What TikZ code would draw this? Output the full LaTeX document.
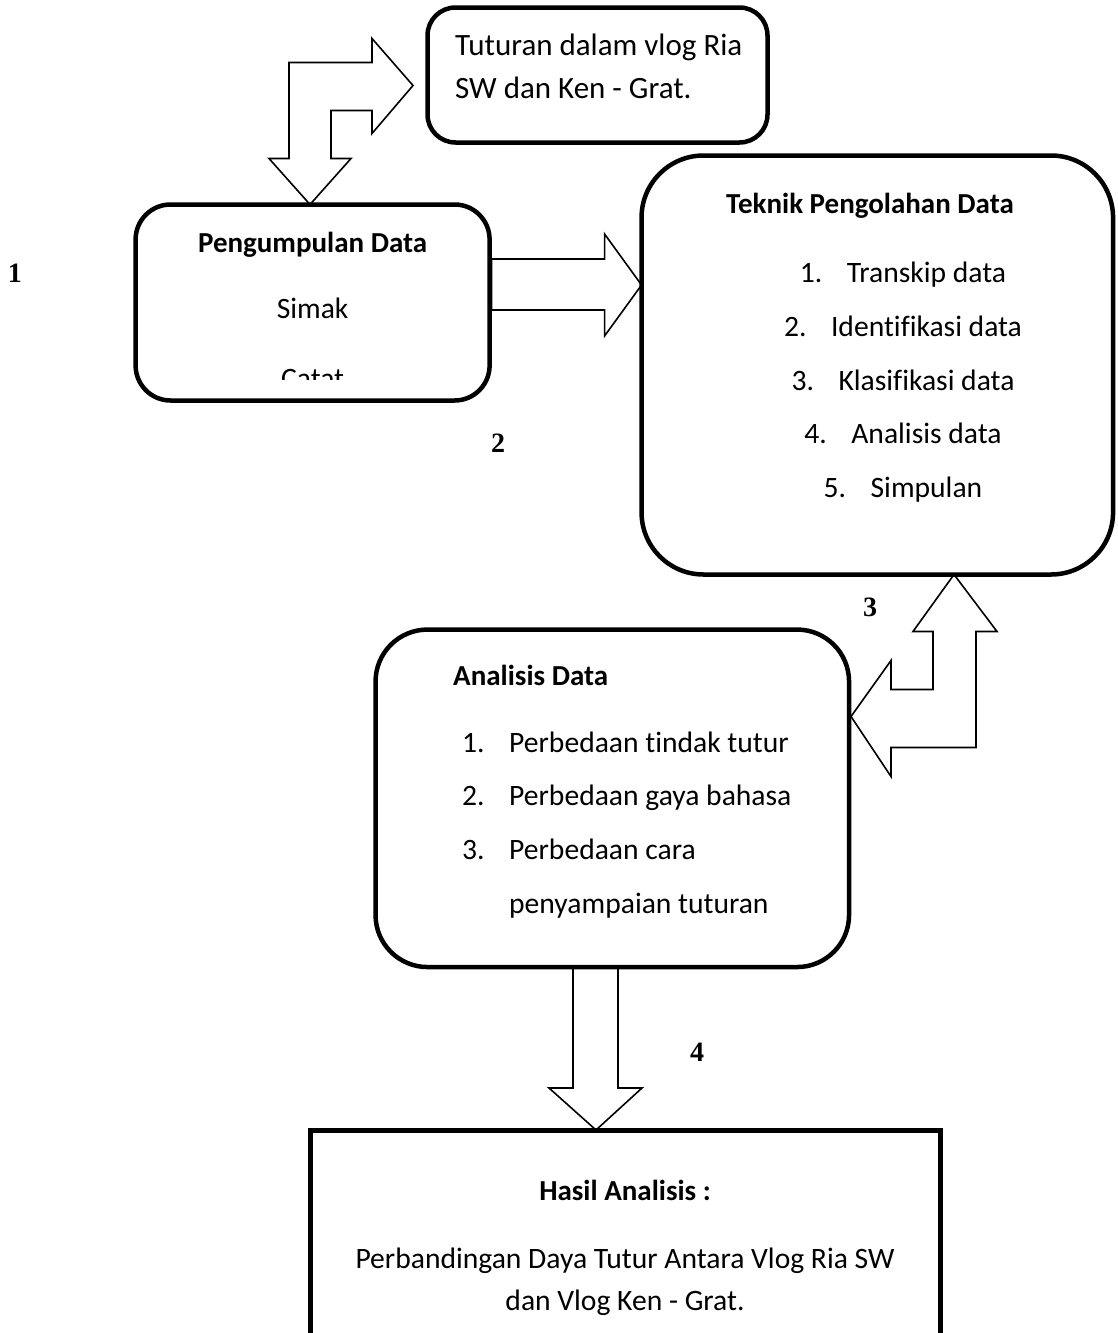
\documentclass[tikz,border=0pt]{standalone}
\usepackage{fontspec}
\setmainfont{Carlito}[Ligatures=NoCommon]
\newfontfamily\numfont{Liberation Serif}
\usetikzlibrary{calc}

\tikzset{
  flowbox/.style={draw,line width=4.5pt,rounded corners=#1,outer sep=0pt,inner sep=0pt},
  blk/.style={draw,line width=1.6pt,line join=miter},
  txt/.style={font=\fontsize{29.6}{35}\selectfont,inner sep=0pt},
  txtb/.style={font=\fontsize{29}{35}\selectfont\bfseries,inner sep=0pt},
  num/.style={font=\numfont\fontsize{28}{34}\selectfont\bfseries,inner sep=0pt}
}

\begin{document}
\begin{tikzpicture}[x=1pt,y=-1pt]
    \useasboundingbox (0,0) rectangle (1117,1333);
    \clip (0,0) rectangle (1117,1333);
    % boxes
    \node[flowbox=28pt,minimum width=340pt,minimum height=135pt](tut)at(597.5,75){};
    \node[flowbox=35pt,minimum width=354pt,minimum height=196pt](peng)at(312.6,302.5){};
    \node[flowbox=62pt,minimum width=471.5pt,minimum height=419pt](tek)at(877.3,365){};
    \node[flowbox=52pt,minimum width=473.5pt,minimum height=337.5pt](ana)at(612.3,798.3){};
    \node[draw,line width=5pt,outer sep=0pt,minimum width=630pt,minimum height=270pt](hasil)at(625,1265){};
    % texts
    \node[txt,font=\fontsize{31}{37}\selectfont,anchor=base west](tut1)at(455,55){Tuturan dalam vlog Ria};
    \node[txt,font=\fontsize{31}{37}\selectfont,anchor=base west](tut2)at(455,98){SW dan Ken - Grat.};
    \node[txtb,anchor=base](pengT)at(312.6,252){Pengumpulan Data};
    \node[txt,anchor=base](pengS)at(312.6,318){Simak};
    \begin{scope}
      \clip(140,350)rectangle(485,379);
      \node[txt,anchor=base](pengC)at(312.6,388){Catat};
    \end{scope}
    \node[txtb,anchor=base](tekT)at(870,213){Teknik Pengolahan Data};
    \node[txt,anchor=base](tek1)at(903,282){\makebox[47pt][l]{1.}Transkip data};
    \node[txt,anchor=base](tek2)at(903,336){\makebox[47pt][l]{2.}Identifikasi data};
    \node[txt,anchor=base](tek3)at(903,390){\makebox[47pt][l]{3.}Klasifikasi data};
    \node[txt,anchor=base](tek4)at(903,443){\makebox[47pt][l]{4.}Analisis data};
    \node[txt,anchor=base](tek5)at(903,497){\makebox[47pt][l]{5.}Simpulan};
    \node[txtb,anchor=base west](anaT)at(453,685){Analisis Data};
    \node[txt,anchor=base west](ana1)at(462,752){\makebox[47pt][l]{1.}Perbedaan tindak tutur};
    \node[txt,anchor=base west](ana2)at(462,805){\makebox[47pt][l]{2.}Perbedaan gaya bahasa};
    \node[txt,anchor=base west](ana3)at(462,859){\makebox[47pt][l]{3.}Perbedaan cara};
    \node[txt,anchor=base west](ana4)at(509,913){penyampaian tuturan};
    \node[txtb,anchor=base](hasT)at(625,1200){Hasil Analisis :};
    \node[txt,anchor=base](has1)at(625,1268){Perbandingan Daya Tutur Antara Vlog Ria SW};
    \node[txt,anchor=base](has2)at(625,1310){dan Vlog Ken - Grat.};
    % step numbers
    \node[num](n1)at(15,273){1};
    \node[num](n2)at(498,443){2};
    \node[num](n3)at(870,607){3};
    \node[num](n4)at(697,1052){4};
    % block arrows
    \coordinate(a1)at(peng.north -| 310,0);
    \draw[blk](a1)--++(41,-46)--++(-20,0)--++(0,-48)--++(41,0)--++(0,23)--++(41,-48)
      --++(-41,-47)--++(0,24)--++(-83,0)--++(0,96)--++(-20,0)--cycle;
    \coordinate(a2)at(tek.west |- 0,285);
    \draw[blk](a2)--++(-37,-51)--++(0,25)--++(-113,0)--++(0,51)--++(113,0)--++(0,26)--cycle;
    \coordinate(a3)at(tek.south -| 954,0);
    \draw[blk](a3)--++(43,57)--++(-21,0)--++(0,116)--++(-85,0)--++(0,29)--++(-40,-60)
      --++(40,-56)--++(0,29)--++(42,0)--++(0,-58)--++(-20,0)--cycle;
    \coordinate(a4)at(hasil.north -| 596,0);
    \draw[blk](a4)--++(-47,-42)--++(24,0)--++(0,-121)--++(45,0)--++(0,121)--++(24,0)--cycle;
  \end{tikzpicture}
\end{document}
